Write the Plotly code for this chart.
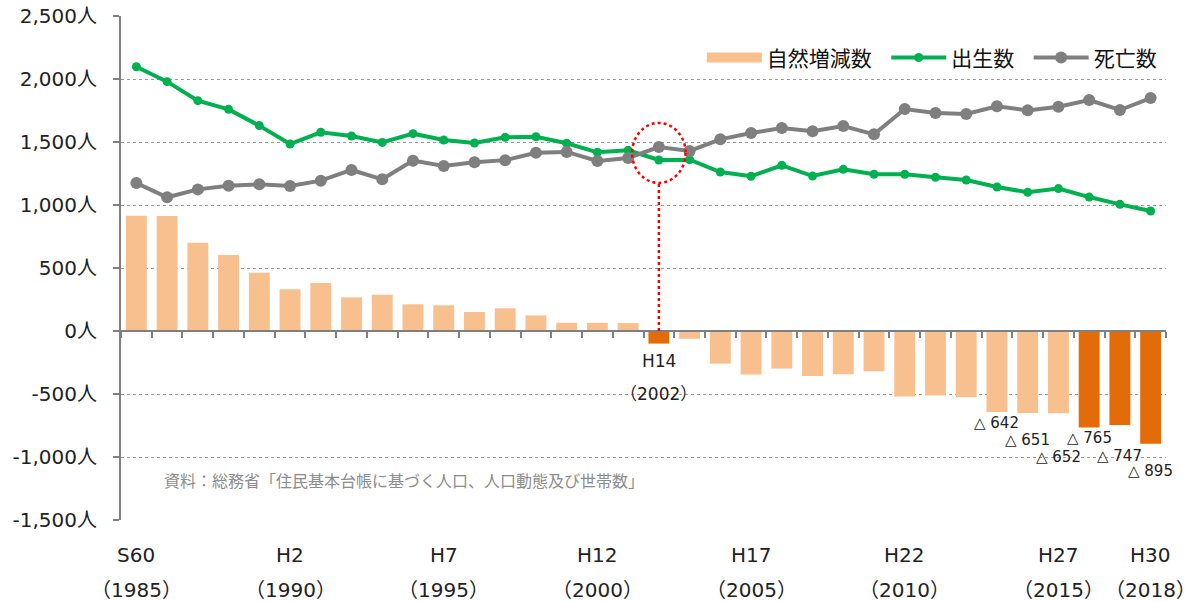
import plotly.graph_objects as go

years = [str(y) for y in range(1985, 2019)]
births = [2097, 1979, 1828, 1759, 1630, 1484, 1577, 1548, 1497, 1566, 1516, 1492, 1537, 1542, 1490, 1418, 1434,
          1357, 1360, 1262, 1228, 1315, 1230, 1283, 1244, 1244, 1220, 1198, 1143, 1101, 1130, 1063, 1005, 952]
deaths = [1175, 1061, 1124, 1153, 1164, 1151, 1193, 1278, 1204, 1352, 1310, 1339, 1356, 1415, 1421, 1349, 1373,
          1460, 1429, 1521, 1571, 1611, 1585, 1627, 1561, 1762, 1730, 1722, 1783, 1751, 1780, 1833, 1754, 1849]
natural = [915, 912, 700, 603, 463, 331, 381, 267, 288, 212, 204, 151, 180, 124, 65, 65, 63,
           -100, -62, -259, -345, -298, -357, -344, -320, -520, -512, -526, -642, -651, -652, -765, -747, -895]
highlight_years = ["2002", "2016", "2017", "2018"]
label_years = ["2013", "2014", "2015", "2016", "2017", "2018"]
label_texts = ["△ 642", "△ 651", "△ 652", "△ 765", "△ 747", "△ 895"]
label_y = [-730, -865, -1000, -850, -992, -1110]
xtick_years = ["1985", "1990", "1995", "2000", "2005", "2010", "2015", "2018"]
xtick_era = ["S60", "H2", "H7", "H12", "H17", "H22", "H27", "H30"]
xtick_ad = ["（1985）", "（1990）", "（1995）", "（2000）", "（2005）", "（2010）", "（2015）", "（2018）"]
ytick_vals = [2500, 2000, 1500, 1000, 500, 0, -500, -1000, -1500]
ytick_text = ["2,500人", "2,000人", "1,500人", "1,000人", "500人", "0人", "-500人", "-1,000人", "-1,500人"]
source_text = "資料：総務省「住民基本台帳に基づく人口、人口動態及び世帯数」"
legend_names = ["自然増減数", "出生数", "死亡数"]

FONT = "DejaVu Sans, Noto Sans CJK JP"
CJK = "Noto Sans CJK JP"
LIGHT = "#F9C08F"
DARK = "#E36C09"
GREEN = "#00B050"
GRAY = "#7F7F7F"
PAD = "\u00a0\u00a0"

bar_colors = [DARK if y in highlight_years else LIGHT for y in years]
pos = {y: i for i, y in enumerate(years)}

fig = go.Figure()
fig.add_trace(go.Bar(x=years, y=natural, name=legend_names[0],
                     marker=dict(color=bar_colors, line=dict(width=0)), showlegend=False))
# legend entry for the bars (wide rectangular swatch)
fig.add_trace(go.Scatter(x=[None], y=[None], name=legend_names[0] + PAD, mode="lines",
                         line=dict(color=LIGHT, width=16), showlegend=True))
fig.add_trace(go.Scatter(x=years, y=births, name=legend_names[1] + PAD, mode="lines+markers",
                         line=dict(color=GREEN, width=4), marker=dict(color=GREEN, size=9)))
fig.add_trace(go.Scatter(x=years, y=deaths, name=legend_names[2], mode="lines+markers",
                         line=dict(color=GRAY, width=4), marker=dict(color=GRAY, size=12)))

annotations = []
for yr, t, yv in zip(label_years, label_texts, label_y):
    annotations.append(dict(x=pos[yr], y=yv, xref="x", yref="y", text=t, showarrow=False,
                            font=dict(family=FONT, size=15, color="#222")))
for yr, e, a in zip(xtick_years, xtick_era, xtick_ad):
    annotations.append(dict(x=pos[yr], y=0, xref="x", yref="paper", text=e, showarrow=False, yanchor="middle",
                            yshift=-35, font=dict(family=FONT, size=20, color="#222")))
    annotations.append(dict(x=pos[yr], y=0, xref="x", yref="paper", text=a, showarrow=False, yanchor="middle",
                            yshift=-70, font=dict(family=FONT, size=20, color="#222")))
annotations.append(dict(x=pos["2002"], y=-238, xref="x", yref="y", text="H14", showarrow=False,
                        font=dict(family=FONT, size=17, color="#222")))
annotations.append(dict(x=pos["2002"], y=-500, xref="x", yref="y", text="（2002）", showarrow=False,
                        font=dict(family=FONT, size=17, color="#222")))
annotations.append(dict(x=0.039, y=-1183, xref="paper", yref="y", text=source_text, showarrow=False,
                        xanchor="left", font=dict(family=CJK, size=16, color="#8C8C8C")))

idx = pos["2002"]
shapes = [
    dict(type="circle", xref="x", yref="y", x0=idx - 0.87, x1=idx + 0.87, y0=1175, y1=1651,
         line=dict(color="red", width=2.5, dash="dot")),
    dict(type="line", xref="x", yref="y", x0=idx, x1=idx, y0=0, y1=1175,
         line=dict(color="red", width=2.5, dash="dot")),
]

fig.update_layout(
    width=1197, height=602,
    margin=dict(l=121, r=31, t=16, b=82, autoexpand=False),
    paper_bgcolor="white", plot_bgcolor="white",
    bargap=0.32, barmode="overlay",
    font=dict(family=FONT, size=17, color="#222"),
    legend=dict(orientation="h", x=0.996, xanchor="right", y=0.917, yanchor="middle",
                font=dict(family=CJK, size=21, color="#111"), itemwidth=55, bgcolor="rgba(0,0,0,0)",
                traceorder="normal"),
    xaxis=dict(type="category", range=[-0.5, len(years) - 0.5], anchor="free", position=0.375,
               showline=True, linecolor=GRAY, linewidth=2, automargin=False,
               ticks="outside", tickson="boundaries", ticklen=6, tickcolor=GRAY, tickwidth=2,
               showticklabels=False, showgrid=False, zeroline=False),
    yaxis=dict(range=[-1500, 2500], tickvals=ytick_vals, ticktext=ytick_text, showline=True, linecolor=GRAY,
               linewidth=2, ticks="outside", ticklen=6, tickcolor=GRAY, tickwidth=2, showgrid=True,
               gridcolor="#9A9A9A", griddash="dot", gridwidth=1, zeroline=False, automargin=False,
               tickfont=dict(family=FONT, size=20, color="#222"), ticklabelstandoff=12),
    annotations=annotations,
    shapes=shapes,
)

fig.write_html("out.html", config={"displayModeBar": False},
               post_script="document.body.style.margin='0';")
